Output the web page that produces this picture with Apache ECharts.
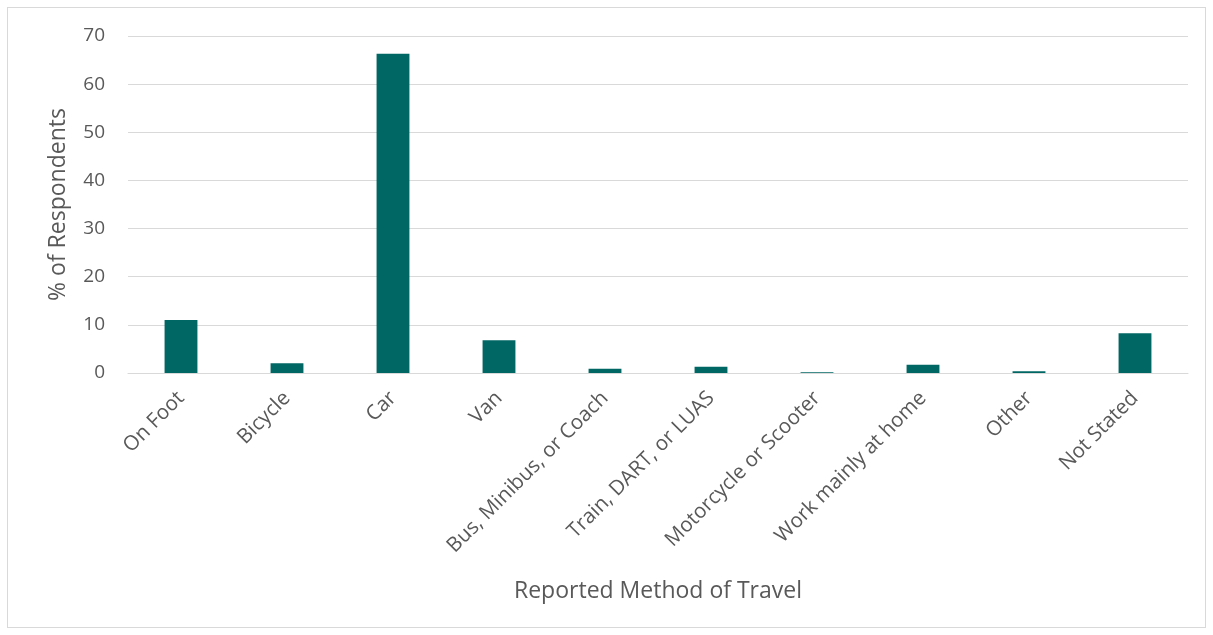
<!DOCTYPE html>
<html>
<head>
<meta charset="utf-8">
<script src="https://cdn.jsdelivr.net/npm/echarts@6/dist/echarts.min.js"></script>
<style>
  html, body { margin: 0; padding: 0; background: #fff; }
  #frame { position: absolute; left: 7px; top: 7px; width: 1199px; height: 621px; border: 1px solid #d9d9d9; box-sizing: border-box; }
  #chart { position: absolute; left: 0; top: 0; width: 1213px; height: 635px; }
</style>
</head>
<body>
<div id="frame"></div>
<div id="chart"></div>
<script>
// Travel methods reported by respondents
const categories = [
  'On Foot', 'Bicycle', 'Car', 'Van', 'Bus, Minibus, or Coach',
  'Train, DART, or LUAS', 'Motorcycle or Scooter', 'Work mainly at home',
  'Other', 'Not Stated'
];
const percentages = [11.0, 2.0, 66.3, 6.8, 0.9, 1.3, 0.15, 1.7, 0.35, 8.25];
const yTicks = { min: 0, max: 70, interval: 10 };

const fontFamily = '"Open Sans", sans-serif';
const textColor = '#595959';

const chart = echarts.init(document.getElementById('chart'));
chart.setOption({
  animation: false,
  grid: { left: 128, right: 25, top: 36, bottom: 262 },
  xAxis: {
    type: 'category',
    data: categories,
    name: 'Reported Method of Travel',
    nameLocation: 'middle',
    nameGap: 207,
    nameTextStyle: { fontFamily, fontSize: 23, color: textColor },
    axisLine: { lineStyle: { color: '#d9d9d9', width: 1 } },
    axisTick: { show: false },
    axisLabel: {
      rotate: 45, interval: 0, margin: 22,
      fontFamily, fontSize: 20.5, color: textColor
    }
  },
  yAxis: {
    type: 'value',
    min: yTicks.min, max: yTicks.max, interval: yTicks.interval,
    name: '% of Respondents',
    nameLocation: 'middle',
    nameGap: 58,
    nameTextStyle: { fontFamily, fontSize: 23, color: textColor },
    axisLine: { show: false },
    axisTick: { show: false },
    axisLabel: { fontFamily, fontSize: 19, color: textColor, margin: 23 },
    splitLine: { lineStyle: { color: '#d9d9d9', width: 1 } }
  },
  series: [{
    type: 'bar',
    data: percentages,
    barWidth: '31%',
    itemStyle: { color: '#006764' }
  }]
});
</script>
</body>
</html>
